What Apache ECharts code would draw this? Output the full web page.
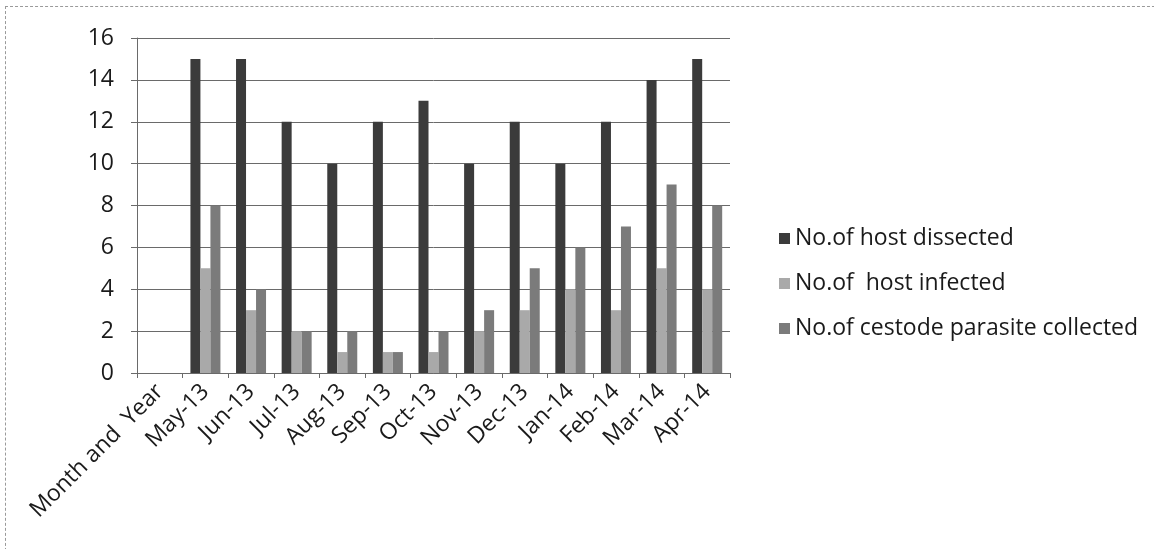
<!DOCTYPE html>
<html><head><meta charset="utf-8">
<script src="https://cdn.jsdelivr.net/npm/echarts@6/dist/echarts.min.js"></script>
<style>
html,body{margin:0;padding:0;background:#fff;}
#frame{position:absolute;left:5px;top:6px;width:1160px;height:560px;border:1px dashed #9a9a9a;box-sizing:border-box;}
#c{width:1154px;height:549px;position:absolute;left:0;top:0;}
</style>
</head><body>
<div id="frame"></div>
<div id="c"></div>
<script>
var categories = ['Month and  Year','May-13','Jun-13','Jul-13','Aug-13','Sep-13','Oct-13','Nov-13','Dec-13','Jan-14','Feb-14','Mar-14','Apr-14'];
var hostDissected = [null,15,15,12,10,12,13,10,12,10,12,14,15];
var hostInfected  = [null,5,3,2,1,1,1,2,3,4,3,5,4];
var cestodeCollected = [null,8,4,2,2,1,2,3,5,6,7,9,8];
var seriesNames = ['No.of host dissected','No.of  host infected','No.of cestode parasite collected'];
var yTicks = {min:0,max:16,interval:2};

var font = '"Open Sans", "Liberation Sans", sans-serif';
var chart = echarts.init(document.getElementById('c'));
chart.setOption({
  animation:false,
  backgroundColor:'transparent',
  grid:{left:137,top:38,width:593,height:335,containLabel:false},
  legend:{
    orient:'vertical',left:774,top:222,itemWidth:11,itemHeight:11,itemGap:22,icon:'rect',
    textStyle:{fontFamily:font,fontSize:23,color:'#1a1a1a'},
    data:seriesNames
  },
  xAxis:{
    type:'category',data:categories,
    axisLine:{lineStyle:{color:'#6a6a6a',width:1}},
    axisTick:{show:true,length:5,lineStyle:{color:'#6a6a6a'}},
    axisLabel:{rotate:45,fontFamily:font,fontSize:23,color:'#1a1a1a',margin:15,interval:0}
  },
  yAxis:{
    type:'value',min:yTicks.min,max:yTicks.max,interval:yTicks.interval,
    axisLine:{show:true,lineStyle:{color:'#6a6a6a'}},
    axisTick:{show:true,length:6,lineStyle:{color:'#6a6a6a'}},
    splitLine:{lineStyle:{color:'#6a6a6a',width:1}},
    axisLabel:{fontFamily:font,fontSize:23,color:'#1a1a1a',margin:23}
  },
  series:[
    {name:seriesNames[0],type:'bar',data:hostDissected,barWidth:10,barGap:'0%',itemStyle:{color:'#3b3b3b'}},
    {name:seriesNames[1],type:'bar',data:hostInfected,barWidth:10,barGap:'0%',itemStyle:{color:'#a9a9a9'}},
    {name:seriesNames[2],type:'bar',data:cestodeCollected,barWidth:10,barGap:'0%',itemStyle:{color:'#7b7b7b'}}
  ]
});
</script>
</body></html>
